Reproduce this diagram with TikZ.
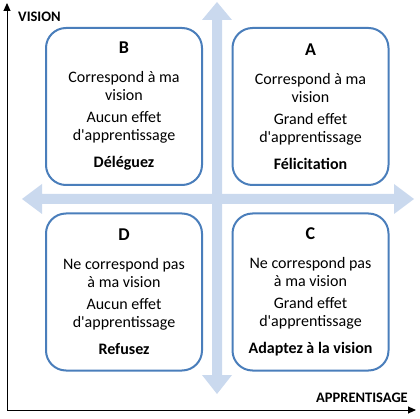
\documentclass[tikz,border=0pt]{standalone}
\usepackage{fontspec}
\setmainfont{Carlito}[Ligatures=TeXOff]
\usetikzlibrary{arrows.meta}
\definecolor{boxblue}{HTML}{4A7EBB}
\definecolor{arrowblue}{HTML}{CAD9EE}
\newcommand{\qletter}[1]{{\fontsize{18}{18}\selectfont\textbf{#1}}}
\begin{document}
\begin{tikzpicture}[x=1pt,y=-1pt,
  quad/.style={draw=boxblue, line width=2pt, rounded corners=20pt, fill=white,
    minimum width=156pt, minimum height=157pt, align=center, inner sep=0pt,
    font=\fontsize{16}{18}\selectfont},
  axislabel/.style={font=\bfseries\fontsize{14.5}{17}\selectfont, inner sep=0pt},
  axisline/.style={line width=1pt, -{Triangle[length=8pt,width=7pt]}}]
\useasboundingbox (0,0) rectangle (420,419);
% cross arrows
\fill[arrowblue] (212,20) -- (202,20) -- (217,2) -- (232,20) -- (222,20) -- (222,375)
  -- (232,375) -- (217,394) -- (202,375) -- (212,375) -- cycle;
\fill[arrowblue] (42,194) -- (42,184) -- (22,199) -- (42,214) -- (42,204) -- (394,204)
  -- (394,214) -- (414,199) -- (394,184) -- (394,194) -- cycle;
% quadrants
\node[quad] (B) at (124,106.5) {\qletter{B}\\[11pt]Correspond à ma\\vision\\[4pt]Aucun effet\\d'apprentissage\\[9pt]\textbf{Déléguez}};
\node[quad] (A) at (310.5,106.5) {\qletter{A}\\[11pt]Correspond à ma\\vision\\[4pt]Grand effet\\d'apprentissage\\[9pt]\textbf{Félicitation}};
\node[quad] (D) at (124,292) {\qletter{D}\\[11pt]Ne correspond pas\\à ma vision\\[4pt]Aucun effet\\d'apprentissage\\[9pt]\textbf{Refusez}};
\node[quad] (C) at (310.5,292) {\qletter{C}\\[11pt]Ne correspond pas\\à ma vision\\[4pt]Grand effet\\d'apprentissage\\[9pt]\textbf{Adaptez à la vision}};
% axes
\coordinate (O) at (7,410);
\coordinate (Ytop) at (7,3);
\coordinate (Xend) at (416,410);
\draw[axisline] (O) -- (Ytop);
\draw[axisline] (O) -- (Xend);
\node[axislabel, anchor=west] (vis) at (18,17) {VISION};
\node[axislabel, anchor=east] (app) at (408,398) {APPRENTISAGE};
\end{tikzpicture}
\end{document}
